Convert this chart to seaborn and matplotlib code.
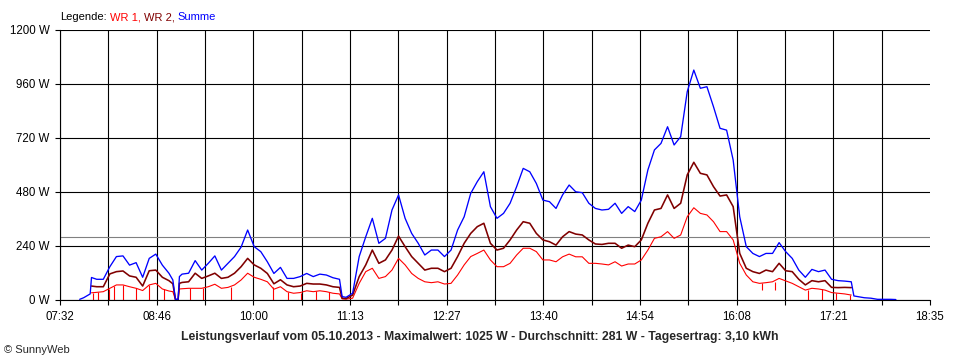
import matplotlib
matplotlib.use("Agg")
import matplotlib.pyplot as plt
from matplotlib.offsetbox import TextArea, HPacker, AnchoredOffsetbox
import numpy as np
import pandas as pd
import seaborn as sns

sns.set_theme(style="white")
plt.rcParams['font.family'] = ['Liberation Sans', 'DejaVu Sans']

# read off the SunnyWeb chart of 05.10.2013, roughly every 5 minutes
times = ["07:47", "07:50", "07:55", "07:56", "08:00", "08:05", "08:10", "08:15", "08:20",
         "08:25", "08:30", "08:35", "08:40", "08:45", "08:50", "08:55", "08:58", "09:00",
         "09:02", "09:03", "09:05", "09:10", "09:15", "09:20", "09:25", "09:30", "09:35",
         "09:40", "09:45", "09:50", "09:55", "10:00", "10:05", "10:10", "10:15", "10:20",
         "10:25", "10:30", "10:35", "10:40", "10:45", "10:50", "10:55", "11:00", "11:05",
         "11:07", "11:10", "11:15", "11:20", "11:25", "11:30", "11:35", "11:40", "11:45",
         "11:50", "11:55", "12:00", "12:05", "12:10", "12:15", "12:20", "12:25", "12:30",
         "12:35", "12:40", "12:45", "12:50", "12:55", "13:00", "13:05", "13:10", "13:15",
         "13:20", "13:25", "13:30", "13:35", "13:40", "13:45", "13:50", "13:55", "14:00",
         "14:05", "14:10", "14:15", "14:20", "14:25", "14:30", "14:35", "14:40", "14:45",
         "14:50", "14:55", "15:00", "15:05", "15:10", "15:15", "15:20", "15:25", "15:30",
         "15:35", "15:40", "15:45", "15:50", "15:55", "16:00", "16:05", "16:10", "16:15",
         "16:20", "16:25", "16:30", "16:35", "16:40", "16:45", "16:50", "16:55", "17:00",
         "17:05", "17:10", "17:15", "17:20", "17:25", "17:30", "17:35", "17:37", "17:40",
         "17:45", "17:50", "17:55", "18:00", "18:05", "18:09"]

summe = [3, 10, 27, 100, 92, 92, 148, 193, 196,
         155, 166, 101, 185, 204, 155, 119, 89, 3,
         3, 104, 115, 119, 175, 133, 163, 196, 133,
         163, 193, 235, 311, 237, 215, 170, 118, 145,
         96, 96, 104, 118, 104, 115, 111, 99, 92,
         15, 12, 30, 193, 281, 363, 252, 274, 400,
         467, 363, 296, 252, 200, 222, 222, 193, 222,
         311, 370, 474, 526, 570, 415, 363, 385, 430,
         504, 585, 570, 518, 444, 437, 407, 467, 511,
         481, 477, 430, 407, 400, 403, 430, 385, 415,
         393, 444, 578, 667, 696, 770, 689, 726, 926,
         1022, 941, 948, 859, 763, 755, 622, 370, 237,
         207, 193, 207, 207, 255, 215, 185, 133, 101,
         136, 126, 133, 92, 86, 84, 81, 18, 15,
         10, 8, 3, 3, 3, 2]

wr2 = [None, None, None, 62, 59, 59, 116, 126, 129,
       107, 101, 62, 130, 133, 101, 86, 72, 2,
       2, 74, 78, 81, 119, 96, 107, 119, 96,
       101, 119, 148, 185, 156, 141, 118, 72, 90,
       67, 59, 62, 74, 71, 71, 67, 59, 56,
       8, 6, 22, 104, 156, 222, 163, 178, 222,
       284, 237, 193, 163, 133, 141, 141, 126, 141,
       193, 252, 296, 326, 341, 252, 222, 230, 267,
       311, 348, 341, 296, 267, 259, 244, 281, 304,
       293, 289, 267, 249, 247, 252, 252, 230, 244,
       237, 267, 341, 400, 407, 467, 407, 430, 556,
       612, 563, 556, 504, 462, 467, 415, 207, 141,
       126, 118, 133, 126, 163, 130, 126, 92, 67,
       86, 81, 86, 56, 55, 56, 55, None, None,
       None, None, None, None, None, None]

wr1 = [None, None, None, 32, 34, 37, 52, 67, 67,
       59, 52, 42, 67, 74, 49, 40, 37, 1,
       1, 49, 50, 52, 52, 52, 59, 70, 52,
       56, 67, 89, 119, 101, 92, 81, 48, 59,
       37, 30, 33, 41, 37, 41, 37, 30, 27,
       5, 4, 8, 74, 126, 141, 96, 104, 133,
       185, 156, 118, 96, 81, 77, 81, 71, 74,
       111, 156, 193, 207, 222, 178, 148, 148, 163,
       200, 230, 230, 215, 178, 178, 170, 192, 204,
       192, 192, 163, 163, 160, 156, 170, 151, 160,
       160, 178, 222, 274, 281, 304, 274, 289, 370,
       410, 385, 378, 348, 304, 304, 267, 163, 111,
       81, 74, 77, 81, 96, 85, 74, 59, 44,
       52, 49, 44, 33, 30, 27, 22, None, None,
       None, None, None, None, None, None]

# short WR 1 dropouts (time, lowest value, line value)
wr1_dip_times = ["07:57", "08:01", "08:09", "08:13", "08:20", "08:30", "08:40", "08:51",
                 "09:11", "09:21", "09:42", "10:14", "10:26", "10:36", "10:47", "10:57",
                 "16:27", "16:37", "17:02", "17:13", "17:23", "17:34"]
wr1_dip_low = [0, 0, 0, 0, 0, 0, 0, 0,
               0, 0, 0, 0, 0, 0, 0, 0,
               44, 44, 0, 0, 0, 0]
wr1_dip_high = [33, 34, 50, 62, 67, 52, 67, 49,
                52, 52, 58, 60, 37, 33, 38, 36,
                75, 81, 46, 48, 32, 24]

avg_w = 281
y_ticks = [0, 240, 480, 720, 960, 1200]
x_labels = ["07:32", "08:46", "10:00", "11:13", "12:27", "13:40", "14:54", "16:08", "17:21", "18:35"]
title = ("Leistungsverlauf vom 05.10.2013 - Maximalwert: 1025 W - "
         "Durchschnitt: 281 W - Tagesertrag: 3,10 kWh")


def to_min(t):
    h, m = t.split(":")
    return int(h) * 60 + int(m)


df = pd.DataFrame({"t": [to_min(t) for t in times],
                   "WR 1": pd.to_numeric(pd.Series(wr1), errors="coerce"),
                   "WR 2": pd.to_numeric(pd.Series(wr2), errors="coerce"),
                   "Summe": summe})

fig = plt.figure(figsize=(9.6, 3.6), dpi=100)
ax = fig.add_axes([60 / 960, 60 / 360, 870 / 960, 270 / 360])

x0, x1 = to_min(x_labels[0]), to_min(x_labels[-1])
xt = np.linspace(x0, x1, 2 * len(x_labels) - 1)
ax.set_xlim(x0, x1)
ax.set_ylim(0, 1200)
ax.set_xticks(xt)
ax.set_xticklabels([x_labels[i // 2] if i % 2 == 0 else "" for i in range(len(xt))])
ax.set_yticks(y_ticks)
ax.set_yticklabels([f"{v} W" for v in y_ticks])

ax.grid(True, color="black", lw=0.8)
ax.set_axisbelow(True)
ax.xaxis.get_gridlines()[-1].set_visible(False)
for s in ["top", "right"]:
    ax.spines[s].set_visible(False)
for s in ["left", "bottom"]:
    ax.spines[s].set_color("black")
    ax.spines[s].set_linewidth(0.8)
ax.tick_params(axis="both", bottom=True, left=True, length=3.6, width=0.8,
               color="black", labelsize=8.3, labelcolor="black", pad=4)

ax.axhline(avg_w, color="#808080", lw=0.8, zorder=1.5)

sns.lineplot(data=df, x="t", y="WR 1", color="#ff0000", lw=0.8, estimator=None, ax=ax)
ax.vlines([to_min(t) for t in wr1_dip_times], wr1_dip_low, wr1_dip_high, color="#ff0000", lw=0.8)
sns.lineplot(data=df, x="t", y="WR 2", color="#800000", lw=1.15, estimator=None, ax=ax)
sns.lineplot(data=df, x="t", y="Summe", color="#0000ff", lw=0.95, estimator=None, ax=ax)
ax.set_xlabel("")
ax.set_ylabel("")

parts = [("Legende:", "black"), ("WR 1,", "#ff0000"), ("WR 2,", "#800000"), ("Summe", "#0000ff")]
box = HPacker(children=[TextArea(s, textprops=dict(color=c, fontsize=8)) for s, c in parts],
              align="baseline", pad=0, sep=2.2)
anch = AnchoredOffsetbox(loc="lower left", child=box, pad=0, borderpad=0, frameon=False,
                         bbox_to_anchor=(60 / 960, 1 - 22 / 360), bbox_transform=fig.transFigure)
fig.add_artist(anch)

fig.text(0.5, 1 - 337 / 360, title, ha="center", va="center", fontsize=8.8, fontweight="bold")
fig.text(4 / 960, 1 - 350 / 360, "© SunnyWeb", ha="left", va="center", fontsize=8)

fig.savefig("out.png", dpi=100)
